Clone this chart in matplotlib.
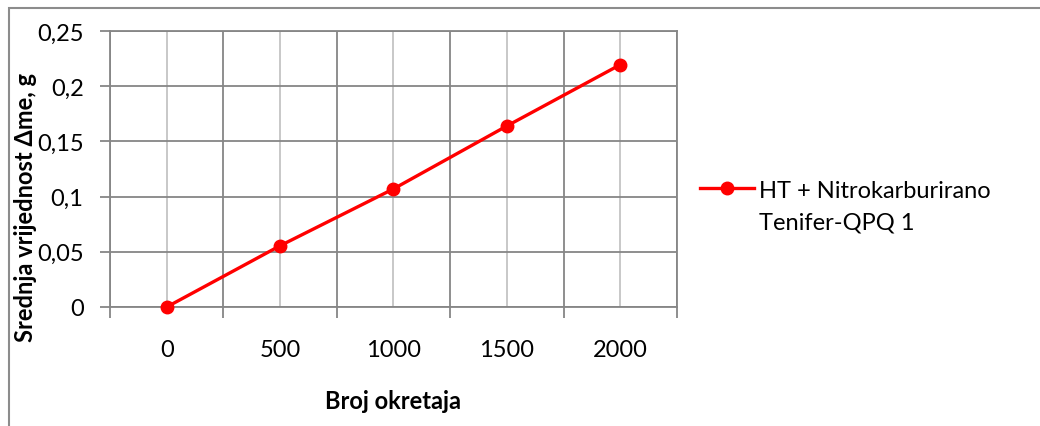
import matplotlib
matplotlib.use("Agg")
import matplotlib.pyplot as plt
from matplotlib.patches import Rectangle
import numpy as np

plt.rcParams['font.family'] = ['Lato', 'DejaVu Sans']

revolutions = ["0", "500", "1000", "1500", "2000"]
mass_loss = [0.0, 0.0555, 0.107, 0.164, 0.2195]
series_name = "HT + Nitrokarburirano"
series_name_2 = "Tenifer-QPQ 1"

y_ticks = [0, 0.05, 0.1, 0.15, 0.2, 0.25]
y_tick_labels = ["0", "0,05", "0,1", "0,15", "0,2", "0,25"]

dark = "#868686"
light = "#c4c4c4"
fs = 17

fig = plt.figure(figsize=(10.4, 4.27), dpi=100)
ax = fig.add_axes([110 / 1040, 1 - 308 / 427, 567 / 1040, 276 / 427])

x = np.arange(len(revolutions))
line, = ax.plot(x, mass_loss, color="#ff0000", lw=2.4, marker="o", ms=9,
                label=series_name, zorder=5, clip_on=False)

ax.set_xlim(-0.5, len(revolutions) - 0.5)
ax.set_ylim(0, 0.25)

# category boundaries: tick marks + dark grid; category centers: labels + light grid
ax.set_xticks(np.arange(-0.5, len(revolutions)))
ax.set_xticklabels([])
ax.set_xticks(x, minor=True)
ax.set_xticklabels(revolutions, minor=True)
ax.tick_params(axis="x", which="major", length=8, width=1.3, color=dark, direction="out")
ax.tick_params(axis="x", which="minor", length=0, pad=23, labelsize=fs)
ax.grid(axis="x", which="major", color=dark, lw=1.3)
ax.grid(axis="x", which="minor", color=light, lw=1.3)

ax.set_yticks(y_ticks)
ax.set_yticklabels(y_tick_labels)
ax.tick_params(axis="y", length=7, width=1.3, color=dark, pad=12, labelsize=fs)
ax.grid(axis="y", color=dark, lw=1.3)
ax.set_axisbelow(True)

for s in ax.spines.values():
    s.set_color(dark)
    s.set_linewidth(1.3)

fig.text(393 / 1040, 1 - 402 / 427, "Broj okretaja", ha="center", va="center",
         fontsize=fs, fontweight="bold")
fig.text(26 / 1040, 1 - 207 / 427, "Srednja vrijednost \u0394me, g", ha="center",
         va="center", rotation=90, fontsize=fs, fontweight="bold")

leg = ax.legend(loc="center left", bbox_to_anchor=(700 / 1040, 1 - 191 / 427),
                bbox_transform=fig.transFigure, frameon=False, fontsize=fs,
                handlelength=2.3, handletextpad=0.2, borderaxespad=0, borderpad=0)

# second line of the series name, aligned under the legend text
fig.canvas.draw()
bb = leg.get_texts()[0].get_window_extent().transformed(fig.transFigure.inverted())
fig.text(bb.x0, bb.y0 - 32 / 427, series_name_2, fontsize=fs, ha="left", va="bottom")

# chart area border
fig.add_artist(Rectangle((8.5 / 1040, -0.1), 1.2, 1.1 - 8.5 / 427,
                         transform=fig.transFigure, fill=False, ec="#8c8c8c", lw=1.5))

fig.savefig("out.png", dpi=100, facecolor="white")
